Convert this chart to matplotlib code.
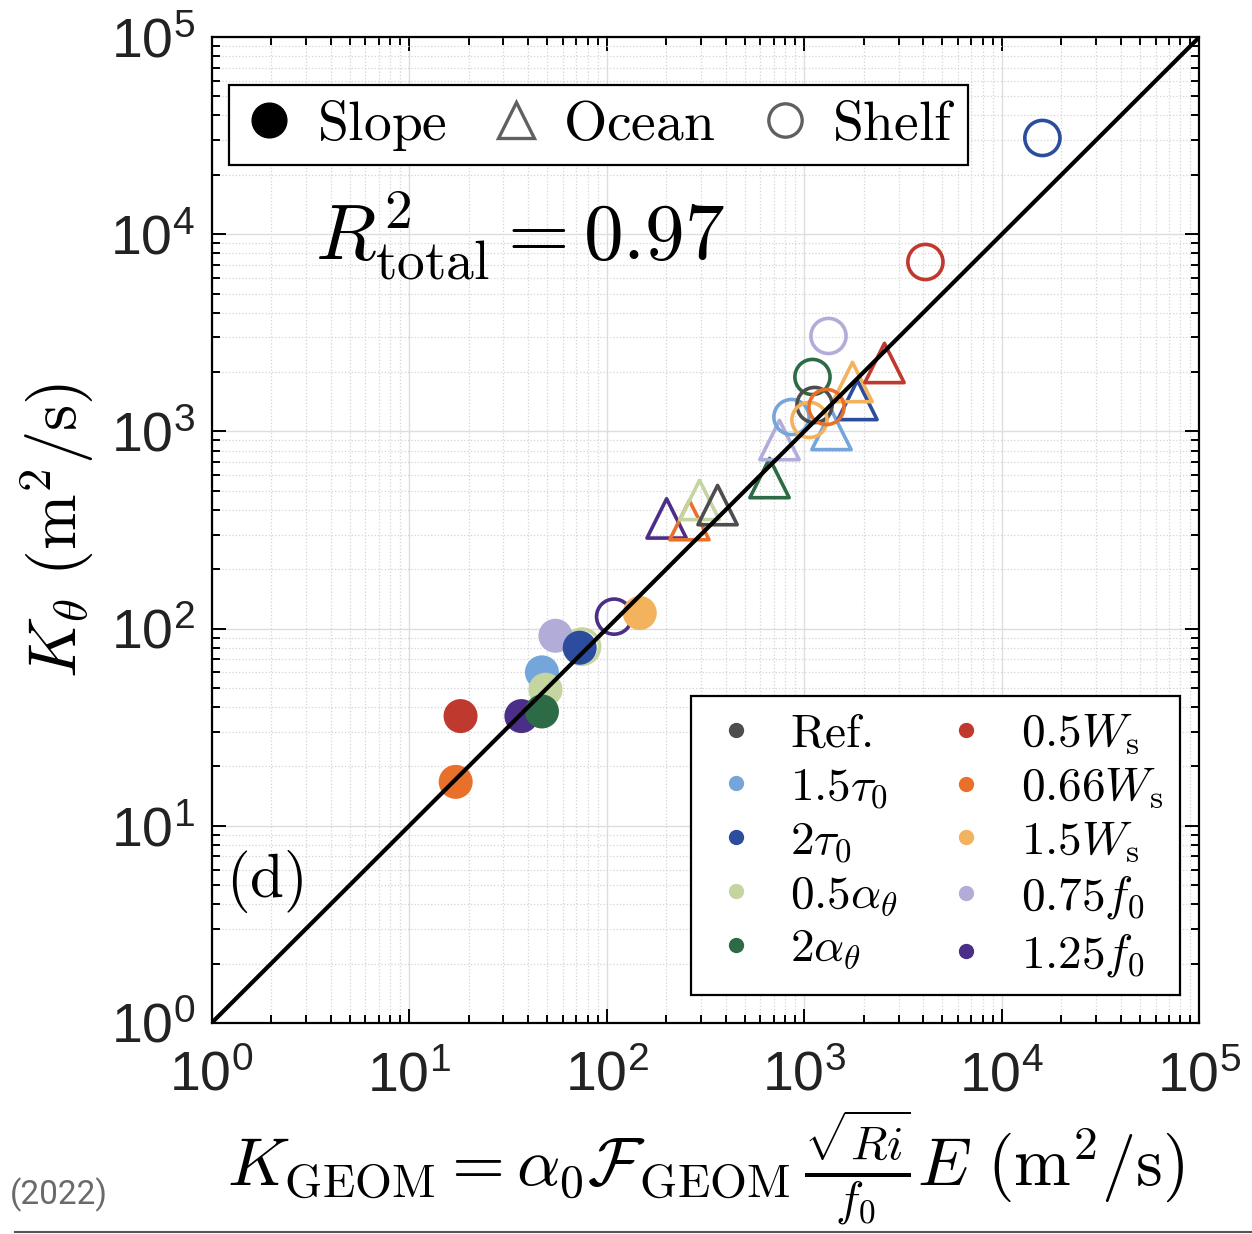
import numpy as np
import matplotlib
matplotlib.use("Agg")
import matplotlib.pyplot as plt
from matplotlib.lines import Line2D
from matplotlib.font_manager import FontProperties
from matplotlib.ticker import LogLocator, NullFormatter

plt.rcParams['font.family'] = ['Liberation Sans', 'DejaVu Sans']
plt.rcParams['mathtext.fontset'] = 'custom'
plt.rcParams['mathtext.rm'] = 'Liberation Sans'
plt.rcParams['mathtext.it'] = 'Liberation Sans:italic'

# experiment cases and their colours
cases = ['Ref.', '1.5tau', '2tau', '0.5alpha', '2alpha',
         '0.5Ws', '0.66Ws', '1.5Ws', '0.75f', '1.25f']
case_labels = [r'$\mathrm{Ref.}$', r'$1.5\tau_0$', r'$2\tau_0$', r'$0.5\alpha_\theta$',
               r'$2\alpha_\theta$', r'$0.5W_\mathrm{s}$', r'$0.66W_\mathrm{s}$',
               r'$1.5W_\mathrm{s}$', r'$0.75f_0$', r'$1.25f_0$']
case_colors = ['#4d4d4d', '#74a6dc', '#2c4d9e', '#c4d59f', '#2d6a46',
               '#c0392f', '#e8702b', '#f3b25c', '#b2acd8', '#4b2e88']
col = dict(zip(cases, case_colors))

# Slope (filled circles)
slope_case = ['0.5Ws', '0.66Ws', '1.5tau', '0.5alpha', '1.25f', '2alpha', '0.75f', '2tau', '1.5Ws']
slope_x = [18.2, 17.2, 47, 49, 37, 47, 55, 73, 147]
slope_y = [36, 16.7, 60, 49, 36, 38, 92, 80, 120]

# Ocean (open triangles)
ocean_case = ['1.25f', '0.66Ws', '0.5alpha', 'Ref.', '2alpha', '0.75f', '1.5tau', '2tau', '1.5Ws', '0.5Ws']
ocean_x = [201, 262, 295, 364, 667, 749, 1373, 1858, 1754, 2546]
ocean_y = [362, 355, 449, 423, 580, 904, 1017, 1443, 1780, 2223]

# Shelf (open circles)
shelf_case = ['0.5alpha', '1.25f', '1.5tau', '2alpha', 'Ref.', '1.5Ws', '0.66Ws', '0.75f', '0.5Ws', '2tau']
shelf_x = [75, 109, 861, 1100, 1127, 1062, 1295, 1326, 4103, 16040]
shelf_y = [81, 115, 1183, 1888, 1361, 1143, 1330, 3048, 7230, 30760]

fig = plt.figure(figsize=(12.52, 12.34), dpi=100)
ax = fig.add_axes([0.169, 0.171, 0.789, 0.799])

ax.set_xscale('log')
ax.set_yscale('log')
ax.set_xlim(1, 1e5)
ax.set_ylim(1, 1e5)
for axis in (ax.xaxis, ax.yaxis):
    axis.set_major_locator(LogLocator(base=10, numticks=12))
    axis.set_minor_locator(LogLocator(base=10, subs=np.arange(2, 10), numticks=12))
    axis.set_minor_formatter(NullFormatter())

ax.grid(True, which='major', color='#dedede', lw=1.0, ls='-', zorder=0)
ax.grid(True, which='minor', color='#d4d4d4', lw=0.9, ls=':', zorder=0)
ax.set_axisbelow(True)

ax.scatter(ocean_x, ocean_y, s=800, marker='^', facecolors='none',
           edgecolors=[col[c] for c in ocean_case], linewidths=2.6, zorder=3)
ax.scatter(shelf_x, shelf_y, s=640, marker='o', facecolors='none',
           edgecolors=[col[c] for c in shelf_case], linewidths=2.6, zorder=3)
ax.scatter(slope_x, slope_y, s=600, marker='o',
           c=[col[c] for c in slope_case], linewidths=0, zorder=3)

ax.plot([1, 1e5], [1, 1e5], color='black', lw=3, zorder=4)

for sp in ax.spines.values():
    sp.set_linewidth(1.6)
ax.tick_params(which='both', direction='in', top=True, right=True, width=1.4)
ax.tick_params(which='major', length=10, labelsize=40, labelcolor='#222222')
ax.tick_params(which='minor', length=6)
ax.tick_params(axis='x', which='major', pad=20)
ax.tick_params(axis='y', which='major', pad=12)

ax.set_xlabel(r'$K_\mathrm{GEOM} = \alpha_0\mathcal{F}_\mathrm{GEOM}\,\frac{\sqrt{Ri}}{f_0}E\ (\mathrm{m}^2/\mathrm{s})$',
              fontsize=49, math_fontfamily='cm', labelpad=4)
ax.set_ylabel(r'$K_\theta\ (\mathrm{m}^2/\mathrm{s})$', fontsize=48,
              math_fontfamily='cm', labelpad=10)

ax.text(0.105, 0.775, r'$R^2_\mathrm{total} = 0.97$', transform=ax.transAxes,
        fontsize=57, math_fontfamily='cm', zorder=5)
ax.text(0.015, 0.128, r'$(\mathrm{d})$', transform=ax.transAxes,
        fontsize=44, math_fontfamily='cm', zorder=5)

# geometry legend
geo_handles = [
    Line2D([], [], ls='none', marker='o', ms=25, color='black'),
    Line2D([], [], ls='none', marker='^', ms=26, mfc='none', mec='#606060', mew=2.4),
    Line2D([], [], ls='none', marker='o', ms=24, mfc='none', mec='#606060', mew=2.4),
]
geo_labels = [r'$\mathrm{Slope}$', r'$\mathrm{Ocean}$', r'$\mathrm{Shelf}$']
leg1 = ax.legend(geo_handles, geo_labels, ncol=3, loc='upper left',
                 bbox_to_anchor=(0.018, 0.951), borderaxespad=0,
                 prop=FontProperties(size=40, math_fontfamily='cm'),
                 fancybox=False, framealpha=1, edgecolor='black',
                 handletextpad=0.35, columnspacing=0.75, handlelength=1.0,
                 borderpad=0.22)
leg1.get_frame().set_linewidth(1.6)
ax.add_artist(leg1)

# case legend
case_handles = [Line2D([], [], ls='none', marker='o', ms=10, color=c) for c in case_colors]
leg2 = ax.legend(case_handles, case_labels, ncol=2, loc='lower right',
                 bbox_to_anchor=(0.980, 0.028), borderaxespad=0,
                 prop=FontProperties(size=34, math_fontfamily='cm'),
                 fancybox=False, framealpha=1, edgecolor='black',
                 handletextpad=0.55, columnspacing=0.85, handlelength=1.2,
                 labelspacing=0.2, borderpad=0.35)
leg2.get_frame().set_linewidth(1.6)

fig.text(0.008, 0.024, '(2022)', fontfamily='Roboto', fontsize=24, color='#6a6a6a')
fig.add_artist(Line2D([0.012, 1.0], [0.002, 0.002], color='#555555', lw=1.5))

fig.savefig('out.png', dpi=100)
